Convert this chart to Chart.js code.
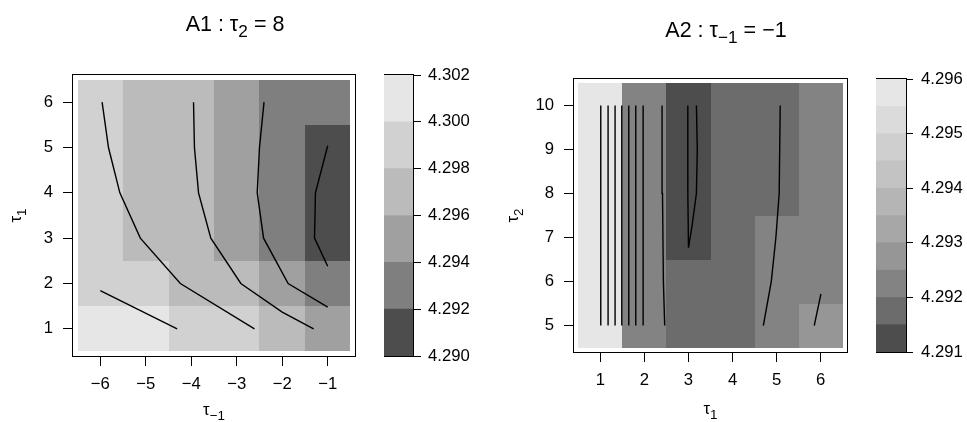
<!DOCTYPE html>
<html>
<head>
<meta charset="utf-8">
<script src="https://cdn.jsdelivr.net/npm/chart.js@4.4.0/dist/chart.umd.min.js"></script>
<style>
  body { margin: 0; background: #fff; }
  #wrap { position: relative; width: 967px; height: 422px; overflow: hidden; }
  canvas { position: absolute; top: 0; }
</style>
</head>
<body>
<div id="wrap">
  <canvas id="heatA1" width="470" height="422" style="left:0px"></canvas>
  <canvas id="barA1" width="100" height="422" style="left:384px"></canvas>
  <canvas id="heatA2" width="484" height="422" style="left:484px"></canvas>
  <canvas id="barA2" width="91" height="422" style="left:876px"></canvas>
</div>
<script>
// ---- panel A1 : tau_2 = 8 ----
// text pieces: [text, isSubscript]
const a1Title = [['A1 : ', 0], ['τ', 0], ['2', 1], [' = 8', 0]];
const a1XLabel = [['τ', 0], ['\u22121', 1]];
const a1YLabel = [['τ', 0], ['1', 1]];
const a1X = [-6, -5, -4, -3, -2, -1];
const a1Y = [1, 2, 3, 4, 5, 6];
// one row per tau_1 value (bottom to top)
const a1Z = [
  [4.3011, 4.3004, 4.2994, 4.2986, 4.2974, 4.2955],
  [4.2996, 4.2991, 4.2978, 4.2968, 4.2951, 4.2935],
  [4.2990, 4.2976, 4.2970, 4.2956, 4.2933, 4.2918],
  [4.2989, 4.2974, 4.2969, 4.2954, 4.2931, 4.2915],
  [4.2988, 4.2973, 4.2968, 4.2952, 4.2930, 4.2917],
  [4.2987, 4.2972, 4.2967, 4.2951, 4.2929, 4.2921]
];
const a1Breaks = [4.290, 4.292, 4.294, 4.296, 4.298, 4.300, 4.302];
const a1BarTicks = [4.290, 4.292, 4.294, 4.296, 4.298, 4.300, 4.302];
const a1XTicks = [-6, -5, -4, -3, -2, -1];
const a1YTicks = [1, 2, 3, 4, 5, 6];
const a1Contours = [
  [[-6, 1.84], [-4.31, 1]],
  [[-5.96, 6], [-5.82, 5], [-5.57, 4], [-5.12, 3], [-4.24, 2], [-2.61, 1]],
  [[-3.95, 6], [-3.93, 5], [-3.84, 4], [-3.57, 3], [-2.91, 2], [-2.0, 1.37], [-1.31, 1]],
  [[-2.40, 6], [-2.50, 5], [-2.55, 4], [-2.41, 3], [-1.87, 2], [-1, 1.48]],
  [[-1, 5.04], [-1.27, 4], [-1.29, 3], [-1, 2.38]]
];

// ---- panel A2 : tau_-1 = -1 ----
const a2Title = [['A2 : ', 0], ['τ', 0], ['\u22121', 1], [' = \u22121', 0]];
const a2XLabel = [['τ', 0], ['1', 1]];
const a2YLabel = [['τ', 0], ['2', 1]];
const a2X = [1, 2, 3, 4, 5, 6];
const a2Y = [5, 6, 7, 8, 9, 10];
// one row per tau_2 value (bottom to top)
const a2Z = [
  [4.2957, 4.2922, 4.2917, 4.2916, 4.2921, 4.2926],
  [4.2957, 4.2922, 4.2917, 4.2916, 4.2921, 4.2923],
  [4.2957, 4.2922, 4.2913, 4.2916, 4.2921, 4.2923],
  [4.2957, 4.2922, 4.2912, 4.2916, 4.2919, 4.2923],
  [4.2957, 4.2922, 4.2912, 4.2916, 4.2918, 4.2923],
  [4.2957, 4.2922, 4.2912, 4.2916, 4.2918, 4.2924]
];
const a2Breaks = [4.2910, 4.2915, 4.2920, 4.2925, 4.2930, 4.2935, 4.2940, 4.2945, 4.2950, 4.2955, 4.2960];
const a2BarTicks = [4.291, 4.292, 4.293, 4.294, 4.295, 4.296];
const a2XTicks = [1, 2, 3, 4, 5, 6];
const a2YTicks = [5, 6, 7, 8, 9, 10];
const a2Contours = [
  [[1.008, 5], [1.008, 10]],
  [[1.174, 5], [1.174, 10]],
  [[1.333, 5], [1.333, 10]],
  [[1.485, 5], [1.485, 10]],
  [[1.644, 5], [1.644, 10]],
  [[1.803, 5], [1.803, 10]],
  [[1.970, 5], [1.970, 10]],
  [[2.46, 5], [2.43, 6], [2.41, 8], [2.40, 10]],
  [[2.985, 10], [2.985, 8], [3.0, 6.77], [3.08, 7.26], [3.18, 8], [3.20, 9], [3.18, 10]],
  [[4.70, 5], [4.88, 6], [4.985, 7], [5.06, 8], [5.083, 10]],
  [[5.856, 5], [6.008, 5.72]]
];

// grey palettes (same as R gray.colors)
const greys6 = ['#4D4D4D', '#7F7F7F', '#A0A0A0', '#BBBBBB', '#D1D1D1', '#E6E6E6'];
const greys10 = ['#4D4D4D', '#6C6C6C', '#838383', '#969696', '#A7A7A7', '#B5B5B5', '#C3C3C3', '#CFCFCF', '#DBDBDB', '#E6E6E6'];

const FAMILY = '"Liberation Sans", Arial, Helvetica, sans-serif';
Chart.defaults.font.family = FAMILY;
Chart.defaults.color = '#000';

const tickFont = { size: 16.7, lineHeight: 1.2 };
const minus = v => (v < 0 ? '\u2212' + Math.abs(v) : String(v));

// text with real subscripts, centred on x, baseline at y
function drawMath(ctx, parts, size, x, y, rot) {
  ctx.save();
  ctx.translate(x, y);
  ctx.rotate(rot || 0);
  ctx.fillStyle = '#000';
  ctx.textAlign = 'left';
  ctx.textBaseline = 'alphabetic';
  const fontOf = s => (s ? size * 0.8 : size) + 'px ' + FAMILY;
  const w = parts.map(([t, s]) => { ctx.font = fontOf(s); return ctx.measureText(t).width; });
  let cx = -w.reduce((a, b) => a + b, 0) / 2;
  parts.forEach(([t, s], i) => {
    ctx.font = fontOf(s);
    ctx.fillText(t, cx, s ? size * 0.27 : 0);
    cx += w[i];
  });
  ctx.restore();
}

function mathLabels(p) {
  return {
    id: 'mathLabels',
    afterDraw(chart) {
      const a = chart.chartArea, ctx = chart.ctx;
      drawMath(ctx, p.title, 21.5, p.titleX, p.titleY, 0);
      drawMath(ctx, p.xLabel, 16.7, (a.left + a.right) / 2, p.xLabY, 0);
      drawMath(ctx, p.yLabel, 16.7, p.yLabX, (a.top + a.bottom) / 2, -Math.PI / 2);
    }
  };
}

// draws image cells from the z grid using the chart scales
const heatCells = {
  id: 'heatCells',
  beforeDatasetsDraw(chart, args, opts) {
    const ctx = chart.ctx;
    const sx = chart.scales.x, sy = chart.scales.y;
    ctx.save();
    opts.z.forEach((row, j) => {
      row.forEach((v, i) => {
        let k = 0;
        while (k < opts.colors.length - 1 && v >= opts.breaks[k + 1]) k++;
        const x0 = Math.round(sx.getPixelForValue(opts.xs[i] - 0.5));
        const x1 = Math.round(sx.getPixelForValue(opts.xs[i] + 0.5));
        const y0 = Math.round(sy.getPixelForValue(opts.ys[j] - 0.5));
        const y1 = Math.round(sy.getPixelForValue(opts.ys[j] + 0.5));
        ctx.fillStyle = opts.colors[k];
        ctx.fillRect(x0, y1, x1 - x0, y0 - y1);
      });
    });
    ctx.restore();
  }
};

// box round the plotting area
const frame = {
  id: 'frame',
  afterDraw(chart) {
    const a = chart.chartArea, ctx = chart.ctx;
    ctx.save();
    ctx.strokeStyle = '#000';
    ctx.lineWidth = 1;
    const l = Math.round(a.left) - 0.5, t = Math.round(a.top) - 0.5;
    ctx.strokeRect(l, t, Math.round(a.right) - Math.round(a.left) + 1, Math.round(a.bottom) - Math.round(a.top) + 1);
    ctx.restore();
  }
};

function heatChart(id, p) {
  return new Chart(document.getElementById(id), {
    type: 'scatter',
    data: {
      datasets: p.contours.map(c => ({
        data: c,
        showLine: true,
        borderColor: '#000',
        borderWidth: 1.4,
        pointRadius: 0,
        fill: false,
        tension: 0
      }))
    },
    options: {
      responsive: false,
      animation: false,
      events: [],
      layout: { padding: { top: p.top, right: p.right, left: 0, bottom: 0 } },
      plugins: {
        legend: { display: false },
        tooltip: { enabled: false },
        heatCells: { xs: p.xs, ys: p.ys, z: p.z, breaks: p.breaks, colors: p.colors }
      },
      scales: {
        x: {
          type: 'linear',
          min: p.xRange[0], max: p.xRange[1],
          afterBuildTicks: s => { s.ticks = p.xTicks.map(v => ({ value: v })); },
          afterFit: s => { s.height = p.xAxisH; },
          ticks: { font: tickFont, padding: 8, maxRotation: 0, autoSkip: false, callback: v => minus(v) },
          grid: { drawOnChartArea: false, drawTicks: true, tickLength: 10, color: '#000' },
          border: { display: false }
        },
        y: {
          type: 'linear',
          min: p.yRange[0], max: p.yRange[1],
          afterBuildTicks: s => { s.ticks = p.yTicks.map(v => ({ value: v })); },
          afterFit: s => { s.width = p.yAxisW; },
          ticks: { font: tickFont, padding: 10, autoSkip: false, callback: v => minus(v) },
          grid: { drawOnChartArea: false, drawTicks: true, tickLength: 10, color: '#000' },
          border: { display: false }
        }
      }
    },
    plugins: [heatCells, frame, mathLabels(p)]
  });
}

function barChart(id, p) {
  const ds = p.colors.map((c, i) => ({
    data: [[p.breaks[i], p.breaks[i + 1]]],
    backgroundColor: c,
    borderWidth: 0,
    borderSkipped: false,
    barPercentage: 1,
    categoryPercentage: 1,
    grouped: false
  }));
  return new Chart(document.getElementById(id), {
    type: 'bar',
    data: { labels: [''], datasets: ds },
    options: {
      responsive: false,
      animation: false,
      events: [],
      layout: { padding: { top: p.top, bottom: p.bottom, left: 0, right: 0 } },
      plugins: { legend: { display: false }, tooltip: { enabled: false } },
      scales: {
        x: { display: false },
        y: {
          position: 'right',
          min: p.breaks[0], max: p.breaks[p.breaks.length - 1],
          afterBuildTicks: s => { s.ticks = p.ticks.map(v => ({ value: v })); },
          afterFit: s => { s.width = p.axisW; },
          ticks: { font: tickFont, padding: p.tickPad, autoSkip: false, callback: v => v.toFixed(3) },
          grid: { drawOnChartArea: false, drawTicks: true, tickLength: p.tickLen, color: '#000' },
          border: { display: false }
        }
      }
    },
    plugins: [frame]
  });
}

heatChart('heatA1', {
  title: a1Title, titleX: 235, titleY: 30.7,
  xLabel: a1XLabel, xLabY: 415,
  yLabel: a1YLabel, yLabX: 21.3,
  xs: a1X, ys: a1Y, z: a1Z, breaks: a1Breaks, colors: greys6,
  contours: a1Contours,
  xRange: [-6.6, -0.4], yRange: [0.4, 6.6],
  xTicks: a1XTicks, yTicks: a1YTicks,
  top: 75, right: 115, xAxisH: 66, yAxisW: 73
});
barChart('barA1', {
  breaks: a1Breaks, colors: greys6, ticks: a1BarTicks,
  top: 75, bottom: 66, axisW: 71, tickLen: 8, tickPad: 7
});
heatChart('heatA2', {
  title: a2Title, titleX: 242, titleY: 37.3,
  xLabel: a2XLabel, xLabY: 414,
  yLabel: a2YLabel, yLabX: 34,
  xs: a2X, ys: a2Y, z: a2Z, breaks: a2Breaks, colors: greys10,
  contours: a2Contours,
  xRange: [0.4, 6.6], yRange: [4.4, 10.6],
  xTicks: a2XTicks, yTicks: a2YTicks,
  top: 79, right: 121, xAxisH: 70, yAxisW: 90
});
barChart('barA2', {
  breaks: a2Breaks, colors: greys10, ticks: a2BarTicks,
  top: 79, bottom: 70, axisW: 61, tickLen: 7, tickPad: 8
});
</script>
</body>
</html>
